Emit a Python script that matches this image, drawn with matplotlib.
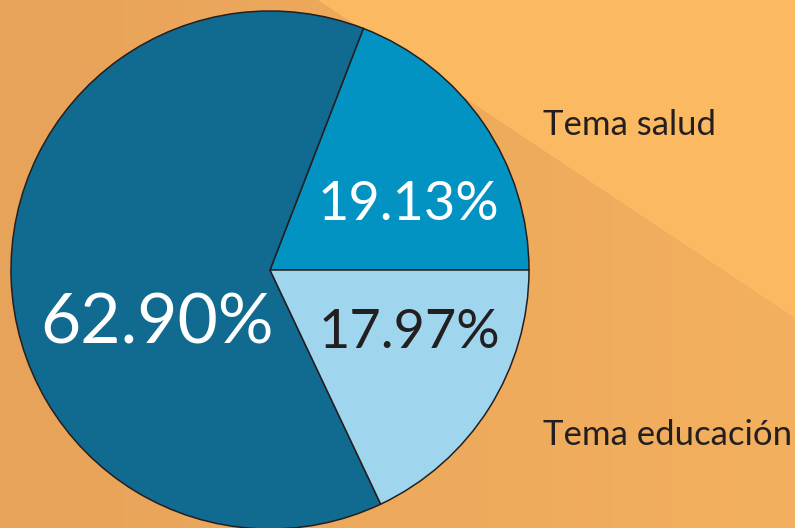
import numpy as np
import matplotlib
matplotlib.use("Agg")
import matplotlib.pyplot as plt
from matplotlib.colors import LinearSegmentedColormap
from matplotlib.patches import Polygon

# data
shares = [19.13, 62.90, 17.97]
share_labels = ["19.13%", "62.90%", "17.97%"]
slice_colors = ["#0393C3", "#116A90", "#9FD6EE"]
label_colors = ["white", "white", "#231F20"]
legend_names = ["Tema salud", "Tema educación"]

plt.rcParams['font.family'] = ['Lato', 'DejaVu Sans']

W, H = 795, 528
fig = plt.figure(figsize=(W / 100, H / 100), dpi=100)
ax = fig.add_axes([0, 0, 1, 1])

# background: soft horizontal gradient plus a lighter wedge top right
bg = LinearSegmentedColormap.from_list("bg", ["#E8A35A", "#F3B05E"])
grad = np.linspace(0, 1, 256).reshape(1, -1)
ax.imshow(grad, cmap=bg, extent=[0, W, 0, H], aspect='auto', zorder=0)
ax.add_patch(Polygon([[318, H], [W, H], [W, H - 318]], closed=True,
                     facecolor="#FBB962", edgecolor='none', zorder=1))

# pie
cx, cy, r = 270, H - 270, 259
wedges, _ = ax.pie(shares, colors=slice_colors, startangle=0, counterclock=True,
                   center=(cx, cy), radius=r, frame=True,
                   wedgeprops=dict(edgecolor='#231F20', linewidth=1.1))
for w in wedges:
    w.set_zorder(2)

# percentage labels
label_pos = [(408, H - 205), (157, H - 324), (409, H - 333)]
label_sizes = [39, 50, 39]
for (x, y), txt, col, fs in zip(label_pos, share_labels, label_colors, label_sizes):
    ax.text(x, y, txt, color=col, fontsize=fs, ha='center', va='center', zorder=3)

# category names
ax.text(543, H - 135, legend_names[0], color='#231F20', fontsize=25,
        ha='left', va='baseline', zorder=3)
ax.text(543, H - 445, legend_names[1], color='#231F20', fontsize=25,
        ha='left', va='baseline', zorder=3)

ax.set_xlim(0, W)
ax.set_ylim(0, H)
ax.set_aspect('auto')
ax.axis('off')

plt.savefig("out.png", dpi=100)
